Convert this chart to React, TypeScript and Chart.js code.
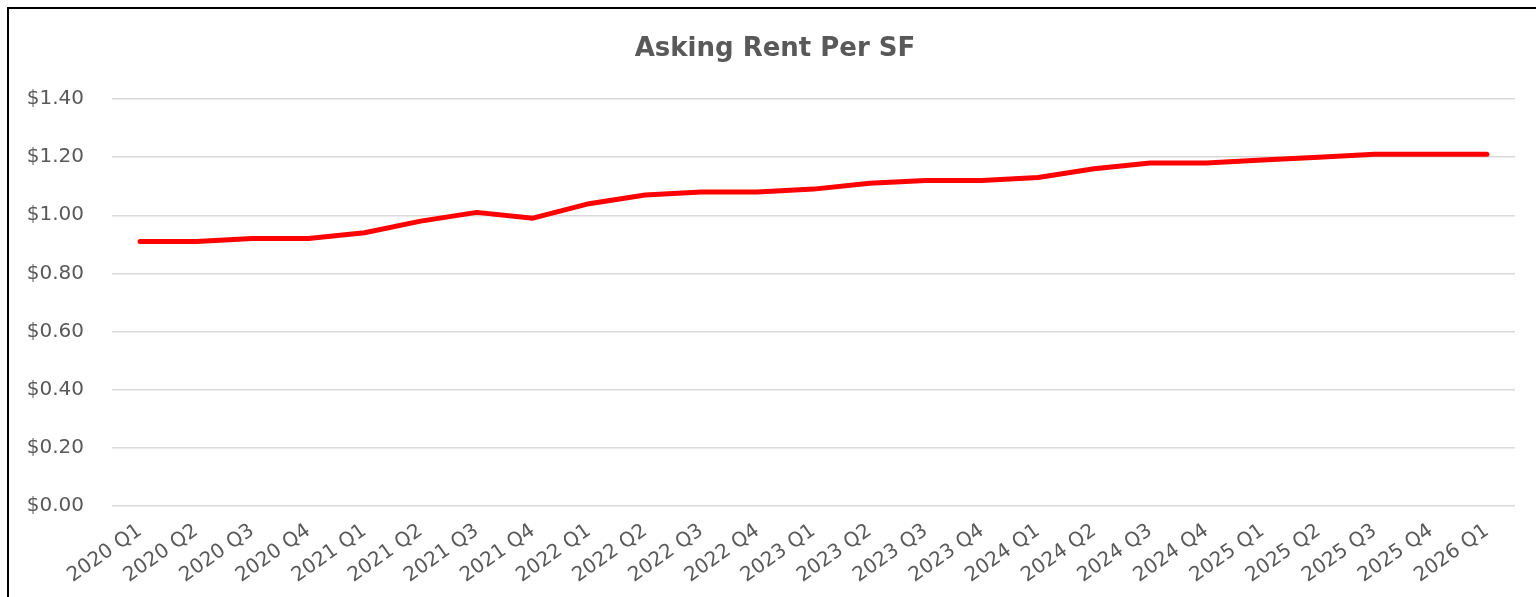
import React, { useEffect, useRef } from "react";
import { Chart, registerables } from "chart.js";

Chart.register(...registerables);

const categories = [
  "2020 Q1", "2020 Q2", "2020 Q3", "2020 Q4",
  "2021 Q1", "2021 Q2", "2021 Q3", "2021 Q4",
  "2022 Q1", "2022 Q2", "2022 Q3", "2022 Q4",
  "2023 Q1", "2023 Q2", "2023 Q3", "2023 Q4",
  "2024 Q1", "2024 Q2", "2024 Q3", "2024 Q4",
  "2025 Q1", "2025 Q2", "2025 Q3", "2025 Q4",
  "2026 Q1",
];

const askingRent = [
  0.91, 0.91, 0.92, 0.92,
  0.94, 0.98, 1.01, 0.99,
  1.04, 1.07, 1.08, 1.08,
  1.09, 1.11, 1.12, 1.12,
  1.13, 1.16, 1.18, 1.18,
  1.19, 1.20, 1.21, 1.21,
  1.21,
];

const titleText = "Asking Rent Per SF";
const yMin = 0;
const yMax = 1.4;
const yStep = 0.2;

const titlePlugin = {
  id: "centeredTitle",
  afterDraw(chart: any) {
    const ctx = chart.ctx;
    ctx.save();
    ctx.font = "bold 26px 'DejaVu Sans'";
    ctx.fillStyle = "#595959";
    ctx.textAlign = "center";
    ctx.textBaseline = "middle";
    ctx.fillText(titleText, 766, 40);
    ctx.restore();
  },
};

export default function App() {
  const ref = useRef<HTMLCanvasElement | null>(null);

  useEffect(() => {
    if (!ref.current) return;
    const chart = new Chart(ref.current, {
      type: "line",
      data: {
        labels: categories,
        datasets: [
          {
            label: "Asking Rent",
            data: askingRent,
            borderColor: "#ff0000",
            backgroundColor: "#ff0000",
            borderWidth: 5,
            borderCapStyle: "round",
            borderJoinStyle: "round",
            pointRadius: 0,
            tension: 0,
            fill: false,
          },
        ],
      },
      options: {
        responsive: false,
        animation: false,
        layout: { padding: { left: 0, right: 18, top: 90, bottom: 0 } },
        plugins: {
          legend: { display: false },
          tooltip: { enabled: false },
          title: { display: false },
        },
        scales: {
          x: {
            offset: true,
            grid: { display: false, drawTicks: false },
            border: { display: false },
            ticks: {
              color: "#595959",
              font: { family: "DejaVu Sans", size: 20 },
              minRotation: 35,
              maxRotation: 35,
              autoSkip: false,
              padding: 13,
            },
            afterFit: (s: any) => {
              s.height = 89;
            },
          },
          y: {
            min: yMin,
            max: yMax,
            grid: { color: "#d9d9d9", lineWidth: 1.5, drawTicks: false },
            border: { display: false },
            ticks: {
              stepSize: yStep,
              color: "#595959",
              font: { family: "DejaVu Sans", size: 20 },
              padding: 28,
              callback: (v: any) => "$" + Number(v).toFixed(2),
            },
            afterFit: (s: any) => {
              s.width = 103;
            },
          },
        },
      },
      plugins: [titlePlugin],
    });
    return () => chart.destroy();
  }, []);

  return (
    <div style={{ position: "fixed", inset: 0, overflow: "hidden", background: "#fff" }}>
      <div
        style={{
          position: "absolute",
          left: 7,
          top: 7,
          width: 1600,
          height: 640,
          border: "2px solid #000",
          boxSizing: "border-box",
        }}
      >
        <canvas ref={ref} width={1524} height={586} style={{ display: "block" }} />
      </div>
    </div>
  );
}
